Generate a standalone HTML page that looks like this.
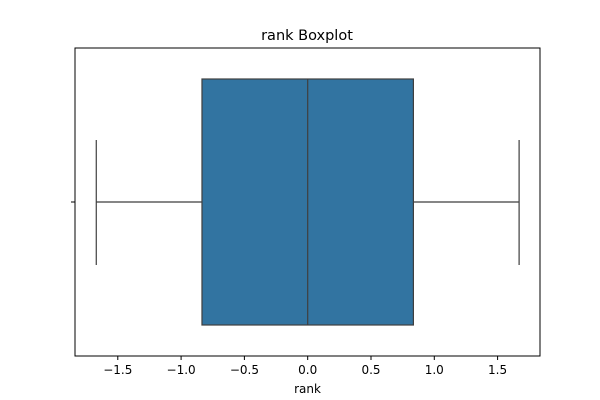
<!DOCTYPE html>
<html><head><meta charset="utf-8"><style>body{margin:0;background:#fff}svg{display:block}text{font-family:"DejaVu Sans","Liberation Sans",sans-serif;fill:#000}</style></head>
<body>
<svg id="c" width="600" height="400"></svg>
<script>
const ticks=[-1.5,-1.0,-0.5,0.0,0.5,1.0,1.5];
const tickLabels=["−1.5","−1.0","−0.5","0.0","0.5","1.0","1.5"];
const stats=[-1.67,-0.835,0.0,0.835,1.67]; // min,q1,median,q3,max
const svg=document.getElementById('c');const NS='http://www.w3.org/2000/svg';
const L=75,R=540,T=48,B=356,x0=-1.838,x1=1.835;
const X=v=>L+(v-x0)/(x1-x0)*(R-L);
const cy=202;
function el(t,a,p){const e=document.createElementNS(NS,t);for(const k in a)e.setAttribute(k,a[k]);(p||svg).appendChild(e);return e;}
let t=el('text',{x:307,y:40,'text-anchor':'middle','font-size':14.5});t.textContent='rank Boxplot';


let w=el('line',{x1:X(stats[0]),x2:X(stats[1]),y1:cy,y2:cy,stroke:'#3f3f3f','stroke-width':1.2});


w=el('line',{x1:X(stats[3]),x2:X(stats[4]),y1:cy,y2:cy,stroke:'#3f3f3f','stroke-width':1.2});


let c=el('line',{x1:X(stats[0]),x2:X(stats[0]),y1:140,y2:265,stroke:'#3f3f3f','stroke-width':1.2});


c=el('line',{x1:X(stats[4]),x2:X(stats[4]),y1:140,y2:265,stroke:'#3f3f3f','stroke-width':1.2});


let b=el('rect',{x:X(stats[1]),y:79,width:X(stats[3])-X(stats[1]),height:246,fill:'#3274a1',stroke:'#3f3f3f','stroke-width':1.2});


let m=el('line',{x1:X(stats[2]),x2:X(stats[2]),y1:79,y2:325,stroke:'#3f3f3f','stroke-width':1.2});


let f=el('rect',{x:L,y:T,width:R-L,height:B-T,fill:'none',stroke:'#000','stroke-width':1});


let yt=el('line',{x1:L-4,x2:L,y1:cy,y2:cy,stroke:'#000'});


ticks.forEach((v,i)=>{
 const l=el('line',{x1:X(v),x2:X(v),y1:B,y2:B+4,stroke:'#000'});
 
 
 const tx=el('text',{x:X(v),y:B+18,'text-anchor':'middle','font-size':12});tx.textContent=tickLabels[i];
 
 
});
t=el('text',{x:(L+R)/2,y:B+37,'text-anchor':'middle','font-size':12});t.textContent='rank';


</script>
</body></html>
